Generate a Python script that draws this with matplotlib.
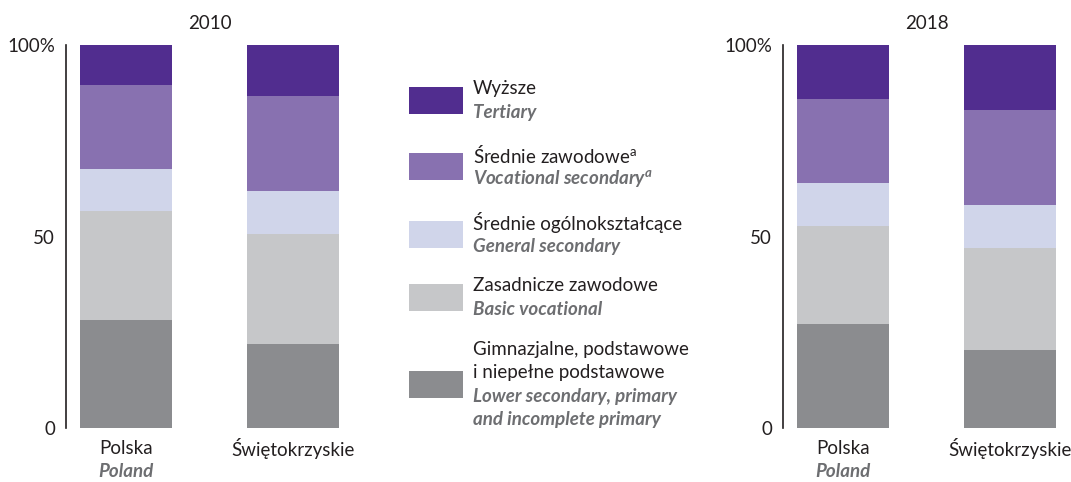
import matplotlib
matplotlib.use('Agg')
import matplotlib.pyplot as plt
from matplotlib.patches import Rectangle
import numpy as np

# shares of population by education level, % (bottom -> top)
regions_pl = ['Polska', 'Świętokrzyskie']
regions_en = ['Poland', '']
years = ['2010', '2018']

lower_2010 = [28.3, 22.0]
basic_2010 = [28.4, 28.7]
general_2010 = [10.9, 11.2]
vocational_2010 = [22.0, 24.8]
tertiary_2010 = [10.4, 13.3]

lower_2018 = [27.2, 20.4]
basic_2018 = [25.6, 26.6]
general_2018 = [11.2, 11.2]
vocational_2018 = [21.9, 24.8]
tertiary_2018 = [14.1, 17.0]

levels_pl = ['Gimnazjalne, podstawowe\ni niepełne podstawowe', 'Zasadnicze zawodowe',
             'Średnie ogólnokształcące', r'Średnie zawodowe$^{\mathrm{a}}$', 'Wyższe']
levels_en = ['Lower secondary, primary\nand incomplete primary', 'Basic vocational',
             'General secondary', 'Vocational secondary$^{a}$', 'Tertiary']
colors = ['#8b8c8f', '#c6c7c9', '#d0d5ea', '#8871b0', '#512d8f']

FONT = 'Lato'
TXT = '#231f20'
GREY = '#6d6e71'
plt.rcParams['font.family'] = FONT
plt.rcParams['mathtext.fontset'] = 'custom'
plt.rcParams['mathtext.rm'] = FONT
plt.rcParams['mathtext.it'] = FONT + ':italic:bold'
plt.rcParams['mathtext.bf'] = FONT + ':bold'

W, H = 1071, 482
fig = plt.figure(figsize=(W / 100, H / 100), dpi=100)

def px(x0, y0, x1, y1):
    return [x0 / W, 1 - y1 / H, (x1 - x0) / W, (y1 - y0) / H]

panels = [
    (years[0], [lower_2010, basic_2010, general_2010, vocational_2010, tertiary_2010], 66),
    (years[1], [lower_2018, basic_2018, general_2018, vocational_2018, tertiary_2018], 783),
]

for year, stack, left in panels:
    ax = fig.add_axes(px(left, 45, left + 287, 428.3))
    x = np.arange(len(regions_pl))
    bottom = np.zeros(len(regions_pl))
    for vals, c in zip(stack, colors):
        ax.bar(x, vals, width=0.55, bottom=bottom, color=c, linewidth=0)
        bottom += np.array(vals)
    ax.set_xlim(-0.36, 1.36)
    ax.set_ylim(0, 100)
    ax.set_yticks([0, 50, 100])
    ax.set_yticklabels(['0', '50', '100%'])
    ax.set_xticks([])
    for s in ['top', 'right', 'bottom']:
        ax.spines[s].set_visible(False)
    ax.spines['left'].set_color(TXT)
    ax.spines['left'].set_linewidth(1.2)
    ax.tick_params(axis='y', length=0, pad=8, labelsize=13.5, labelcolor=TXT)
    ax.text(0.5, 1.055, year, transform=ax.transAxes, ha='center', va='center',
            fontsize=13.5, color=TXT)
    for i in x:
        ax.text(i, -5.2, regions_pl[i], ha='center', va='center', fontsize=13.5, color=TXT)
        if regions_en[i]:
            ax.text(i, -11.4, regions_en[i], ha='center', va='center', fontsize=13.5,
                    color=GREY, style='italic', weight='bold')

# legend drawn in pixel space
lg = fig.add_axes([0, 0, 1, 1])
lg.set_xlim(0, W)
lg.set_ylim(H, 0)
lg.axis('off')
patch_y = [384.5, 297.5, 234.5, 166.5, 100.5]
for i in range(len(levels_pl)):
    yc = patch_y[i]
    lg.add_patch(Rectangle((409, yc - 13.5), 54, 27, color=colors[i], linewidth=0))
    n_pl = levels_pl[i].count('\n') + 1
    n_en = levels_en[i].count('\n') + 1
    n = n_pl + n_en
    step = 23.3
    top = yc - step * (n - 1) / 2
    for j, line in enumerate(levels_pl[i].split('\n')):
        lg.text(473, top + j * step, line, ha='left', va='center', fontsize=13.5, color=TXT)
    for j, line in enumerate(levels_en[i].split('\n')):
        lg.text(473, top + (n_pl + j) * step, line, ha='left', va='center', fontsize=13.5,
                color=GREY, style='italic', weight='bold')

fig.savefig('out.png', dpi=100)
